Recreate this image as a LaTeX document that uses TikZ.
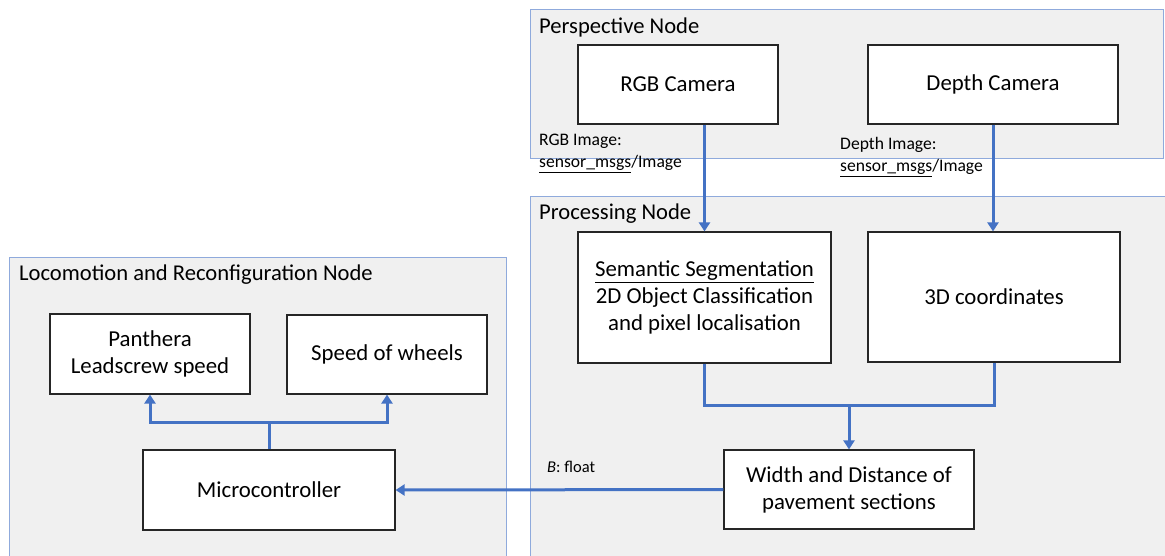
\documentclass[tikz,border=0pt]{standalone}
\usepackage{fontspec}
\setmainfont{Carlito}
\usetikzlibrary{arrows.meta}
\definecolor{linkblue}{RGB}{68,114,196}
\definecolor{framebl}{RGB}{143,170,220}
\definecolor{panelgray}{RGB}{240,240,240}
\begin{document}
\begin{tikzpicture}
    [   x=1pt, y=-1pt,
        grp/.style={draw=framebl,fill=panelgray,line width=1pt,inner sep=0pt},
        grptitle/.style={anchor=west,inner sep=0pt,font=\fontsize{22.6}{26}\selectfont},
        blk/.style={draw=black!85,fill=white,line width=1.2pt,align=center,font=\fontsize{22.8}{27}\selectfont},
        msg/.style={anchor=north west,inner sep=0pt,align=left,font=\fontsize{17.6}{22}\selectfont},
        link/.style={draw=linkblue,line width=3pt},
        arr/.style={link,-{Triangle[width=11pt,length=9pt]}},
    ]
    \path[use as bounding box,clip] (0,0) rectangle (1165,555);
    % panels
    \draw[grp] (530,9) rectangle (1163,158);
    \draw[grp] (530,196) rectangle (1175,570);
    \draw[grp] (9,257) rectangle (506,570);
    \node[grptitle] (tpersp) at (539,27) {Perspective Node};
    \node[grptitle] (tproc) at (539,214) {Processing Node};
    \node[grptitle] (tloco) at (19,275) {Locomotion and Reconfiguration Node};
    % blocks
    \node[blk,minimum width=200,minimum height=79] (rgb) at (678,84.5) {RGB Camera};
    \node[blk,minimum width=250,minimum height=79] (depth) at (993,84.5) {Depth Camera};
    \node[blk,minimum width=253,minimum height=131] (seg) at (704.5,297.5)
        {\underline{Semantic Segmentation}\\2D Object Classification\\and pixel localisation};
    \node[blk,minimum width=252,minimum height=130] (coord) at (994,297) {3D coordinates};
    \node[blk,minimum width=250,minimum height=79] (width) at (849,489.5)
        {Width and Distance of\\pavement sections};
    \node[blk,minimum width=252,minimum height=80] (micro) at (269,490) {Microcontroller};
    \node[blk,minimum width=200,minimum height=80] (panth) at (150,354) {Panthera\\Leadscrew speed};
    \node[blk,minimum width=200,minimum height=79] (speed) at (387,354.5) {Speed of wheels};
    % message labels
    \node[msg] (rgbmsg) at (539,134) {RGB Image:\\\underline{sensor\_msgs}/Image};
    \node[msg] (depmsg) at (840,137) {Depth Image:\\\underline{sensor\_msgs}/Image};
    \node[msg,anchor=west,font=\fontsize{16.5}{20}\selectfont] (bmsg) at (547,467) {\textit{B}: float};
    % links
    \coordinate (join) at (849,405);
    \coordinate (split) at (269,422);
    \draw[arr] (rgb.south -| seg.north) -- (seg.north);
    \draw[arr] (depth.south) -- (depth.south |- coord.north);
    \draw[link] (seg.south) |- (join) -| (coord.south);
    \draw[arr] (join) -- (width.north);
    \draw[arr] (width.west) -- (micro.east);
    \draw[link] (micro.north) -- (split);
    \draw[arr] (split) -| (panth.south);
    \draw[arr] (split) -| (speed.south);
\end{tikzpicture}
\end{document}
